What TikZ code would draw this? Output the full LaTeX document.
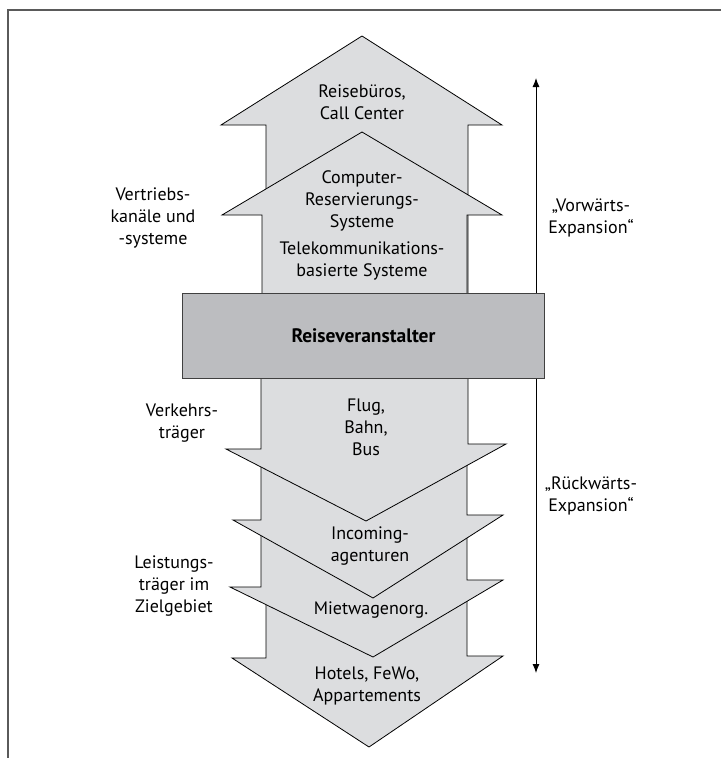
\documentclass[tikz,border=0pt]{standalone}
\usepackage{fontspec}
\setmainfont{PT Sans}
\usetikzlibrary{arrows.meta}
\definecolor{arrowgray}{HTML}{DCDDDF}
\definecolor{boxgray}{HTML}{BCBDC0}
\definecolor{framegray}{HTML}{5A5A5A}
\tikzset{
  bigarrow/.style={fill=arrowgray, draw=black, line width=0.8pt, line join=miter},
  lbl/.style={align=center, font=\fontsize{18}{22}\selectfont, inner sep=0pt},
  centerbox/.style={fill=boxgray, draw=black!75, line width=1pt, minimum width=362pt, minimum height=85pt, inner sep=0pt, font=\fontsize{19.5}{22}\selectfont\bfseries},
  expline/.style={line width=0.9pt, {Latex[length=9pt,width=7pt]}-{Latex[length=9pt,width=7pt]}},
  framestyle/.style={draw=framegray, line width=1.5pt}
}
\begin{document}
\begin{tikzpicture}[x=1pt,y=-1pt]
\useasboundingbox (0,0) rectangle (721,758);
% frame
\draw[framestyle] (8,758) -- (8,10) -- (721,10);

% upward arrows
\draw[bigarrow] (266,300) -- (266,125) -- (221,125) -- (362,36) -- (502,125) -- (468,125) -- (468,300) -- cycle;
\draw[bigarrow] (262,300) -- (262,215) -- (222,215) -- (362,132) -- (502,215) -- (467,215) -- (467,300) -- cycle;

% downward arrows (bottom first)
\draw[bigarrow] (266,590) -- (266,658) -- (232,658) -- (369,747) -- (503,656) -- (467,656) -- (467,590) -- cycle;
\draw[bigarrow] (261,525) -- (261,587) -- (230,587) -- (373,657) -- (503,580) -- (467,580) -- (467,525) -- cycle;
\draw[bigarrow] (261,455) -- (261,520) -- (233,520) -- (373,598) -- (503,515) -- (467,515) -- (467,455) -- cycle;
\draw[bigarrow] (261,370) -- (261,449) -- (226,449) -- (366,521) -- (506,444) -- (468,444) -- (468,370) -- cycle;

% expansion axis
\coordinate (vtop) at (536,78);
\coordinate (vbot) at (536,673);
\draw[expline] (vtop) -- (vbot);

% central box
\node[centerbox] (rv) at (363.5,335.5) {Reiseveranstalter};

% texts in arrows
\node[lbl] (rb) at (362,102.5) {Reisebüros,\\Call Center};
\node[lbl] (crs) at (362,201) {Computer-\\Reservierungs-\\Systeme};
\node[lbl] (tk) at (362,261) {Telekommunikations-\\basierte Systeme};
\node[lbl] (flug) at (366,427) {Flug,\\Bahn,\\Bus};
\node[lbl] (inc) at (370,546) {Incoming-\\agenturen};
\node[lbl] (mw) at (371,610) {Mietwagenorg.};
\node[lbl] (ho) at (367,685.5) {Hotels, FeWo,\\Appartements};

% side labels
\node[lbl] (vk) at (153,218) {Vertriebs-\\kanäle und\\-systeme};
\node[lbl] (vt) at (182,423) {Verkehrs-\\träger};
\node[lbl] (lt) at (174,586) {Leistungs-\\träger im\\Zielgebiet};
\node[lbl] (vw) at (591,218) {„Vorwärts-\\Expansion“};
\node[lbl] (rw) at (591,496) {„Rückwärts-\\Expansion“};
\end{tikzpicture}
\end{document}
